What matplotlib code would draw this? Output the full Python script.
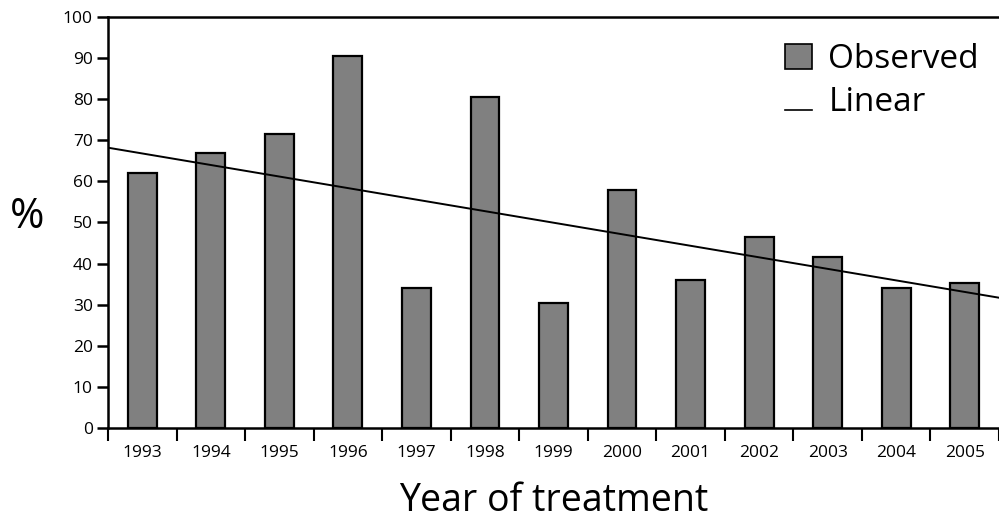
import numpy as np
from matplotlib import pyplot as plt, ticker
from matplotlib.legend_handler import HandlerLine2D
from matplotlib.patches import Patch
from matplotlib.lines import Line2D

years = ['1993', '1994', '1995', '1996', '1997', '1998', '1999',
         '2000', '2001', '2002', '2003', '2004', '2005']
observed = [62, 67, 71.5, 90.5, 34, 80.5, 30.5, 58, 36, 46.5, 41.5, 34, 35.3]
# trend line read at the left and right edges of the plot
linear_ends = [68.2, 31.7]

plt.rcParams['font.family'] = ['Open Sans', 'DejaVu Sans']


class LowLineHandler(HandlerLine2D):
    # draw the legend line at the text baseline, like an underscore
    def create_artists(self, legend, orig_handle, xdescent, ydescent,
                       width, height, fontsize, trans):
        artists = super().create_artists(legend, orig_handle, xdescent, ydescent,
                                         width, height, fontsize, trans)
        for a in artists:
            a.set_ydata(np.asarray(a.get_ydata()) - height * 0.45)
        return artists


fig = plt.figure(figsize=(9.99, 5.21), dpi=100)
ax = fig.add_axes([0.1081, 0.1785, 0.8919, 0.7889])

x = np.arange(len(years))
ax.bar(x, observed, width=0.42, color='#808080', edgecolor='black',
       linewidth=1.6, zorder=2)
ax.plot([-0.5, len(years) - 0.5], linear_ends, color='black', linewidth=1.4,
        zorder=3)

ax.set_xlim(-0.5, len(years) - 0.5)
ax.set_ylim(0, 100)
ax.set_xticks(x)
ax.set_xticklabels(years)
ax.xaxis.set_minor_locator(ticker.FixedLocator(np.arange(-0.5, len(years), 1)))
ax.tick_params(axis='x', which='major', length=0, pad=12, labelsize=12.5)
ax.tick_params(axis='x', which='minor', length=9, width=1.5, direction='out')
ax.set_yticks(np.arange(0, 101, 10))
ax.tick_params(axis='y', length=8, width=1.8, pad=3, labelsize=12.5)

ax.spines['right'].set_visible(False)
for side in ('left', 'top', 'bottom'):
    ax.spines[side].set_linewidth(1.8)

fig.text(0.027, 0.583, '%', fontsize=30, ha='center', va='center')
ax.set_xlabel('Year of treatment', fontsize=27, labelpad=15)

handles = [Patch(facecolor='#808080', edgecolor='black', linewidth=1.2),
           Line2D([], [], color='black', linewidth=1.2)]
ax.legend(handles, ['Observed', 'Linear'], loc='upper right',
          bbox_to_anchor=(1.0, 0.985), frameon=False,
          fontsize=24, handlelength=0.8, handleheight=0.8, handletextpad=0.5,
          labelspacing=0.3, borderaxespad=0.2,
          handler_map={Line2D: LowLineHandler()})

fig.savefig('out.png', dpi=100)
